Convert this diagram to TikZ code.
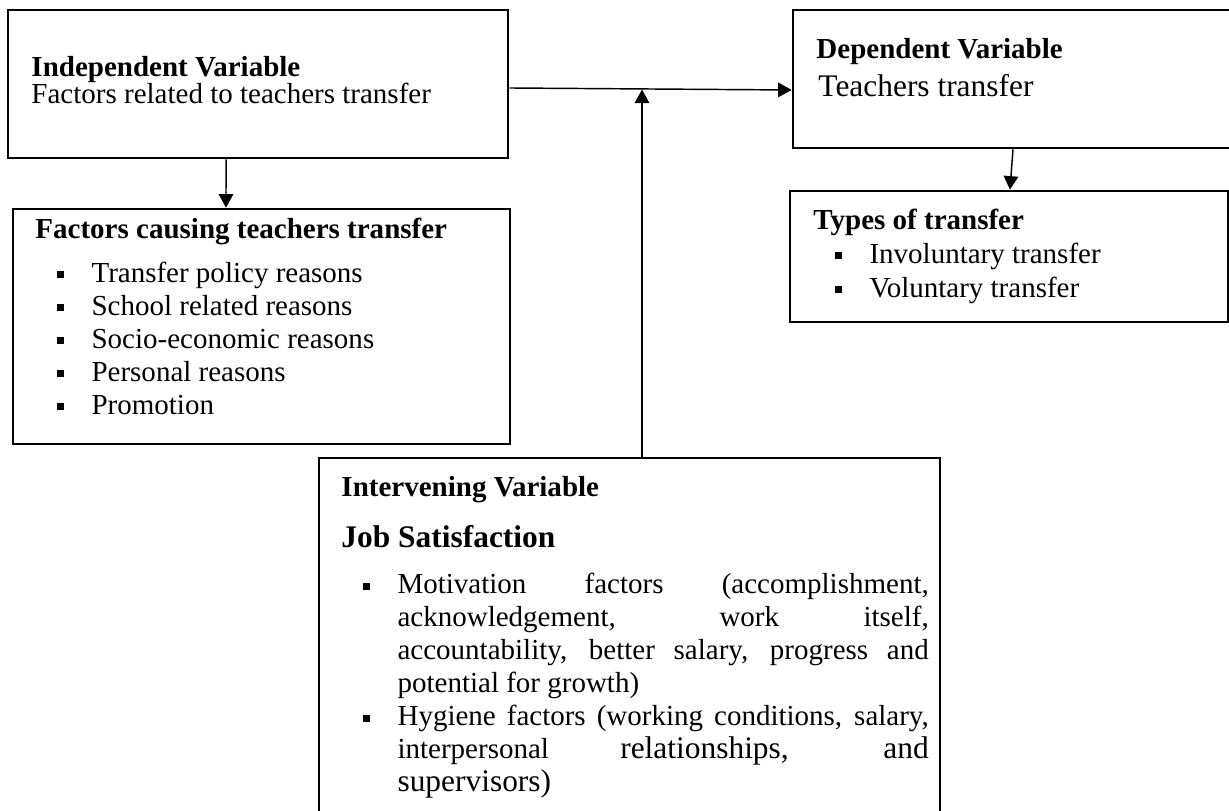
\documentclass[tikz,border=0pt]{standalone}
\usepackage{fontspec}
\setmainfont{Liberation Serif}
\usetikzlibrary{arrows.meta}
% square bullet used in the lists
\newcommand{\bul}{\hspace*{9.1pt}\makebox[14.1pt][l]{\raisebox{1.5pt}{\rule{2.9pt}{2.9pt}}}}
\newcommand{\bitem}[1]{\par{\leftskip=23.2pt\noindent\llap{\raisebox{1.5pt}{\rule{2.9pt}{2.9pt}}\hspace{11.2pt}}\strut#1\par}}
\tikzset{
  varbox/.style={
    draw=black,
    line width=1.1pt,
    inner sep=0pt
  },
  txt/.style={
    inner sep=0pt,
    anchor=base west,
    font=\fontsize{12}{13.65}\selectfont
  },
  head/.style={
    txt,
    font=\fontsize{12}{13.65}\selectfont\bfseries
  },
  link/.style={
    -{Triangle[length=5.6pt,width=6pt]},
    line width=0.6pt,
    draw=black
  }
}
\begin{document}
\begin{tikzpicture}[x=0.01454cm, y=-0.01454cm]
    \useasboundingbox (0,0) rectangle (1229,811);
    \clip (0,0) rectangle (1229,811);
    % boxes
    \node[varbox, minimum width=7.27cm, minimum height=2.152cm] (indep) at (258,84) {};
    \node[varbox, minimum width=7.226cm, minimum height=3.417cm] (causes) at (261.5,326.5) {};
    \node[varbox, minimum width=6.499cm, minimum height=2.007cm] (dep) at (1016.5,79) {};
    \node[varbox, minimum width=6.369cm, minimum height=1.905cm] (types) at (1009,256.5) {};
    \node[varbox, minimum width=9.029cm, minimum height=5.554cm] (intv) at (629.5,649) {};
    % texts
    \node[head] (indepT) at (31,77) {Independent Variable};
    \node[txt] (indepS) at (31,104) {Factors related to teachers transfer};
    \node[head] (causesT) at (35,239) {Factors causing teachers transfer};
    \foreach \t [count=\i] in {Transfer policy reasons, School related reasons,
        Socio-economic reasons, Personal reasons, Promotion}
      \node[txt] (cause\i) at (35,{282+33*(\i-1)}) {\bul\t};
    \node[head] (depT) at (816,59) {Dependent Variable};
    \node[txt, font=\fontsize{13}{15}\selectfont] (depS) at (818,97) {Teachers transfer};
    \node[head] (typesT) at (813,230) {Types of transfer};
    \node[txt] (type1) at (813,263) {\bul Involuntary transfer};
    \node[txt] (type2) at (813,297) {\bul Voluntary transfer};
    \node[head] (intvT) at (341,496) {Intervening Variable};
    \node[head, font=\fontsize{13}{15}\selectfont\bfseries] (intvS) at (341,547) {Job Satisfaction};
    \node[txt, anchor=north west, text width=243pt, align=justify] (intvL) at (341,559.9) {%
      \tolerance=10000\hyphenpenalty=10000
      \bitem{Motivation factors (accomplishment,\linebreak acknowledgement, work itself,\linebreak
        accountability, better salary, progress and\linebreak potential for growth)}%
      \bitem{Hygiene factors (working conditions, salary,\linebreak interpersonal
        {\fontsize{13}{13.65}\selectfont relationships, and\linebreak supervisors)}}};
    % connectors
    \coordinate (meet) at (642,89.5);
    \draw[link] ([xshift=-13.2pt]indep.south) -- ([xshift=-14.7pt]causes.north);
    \draw[link] ([yshift=-1.65pt]indep.east) -- ([yshift=-4.55pt]dep.west);
    \draw[link] (intv.north -| meet) -- (meet);
    \draw[link] ([xshift=-1.45pt]dep.south) -- ([xshift=0.4pt]types.north);
\end{tikzpicture}
\end{document}
